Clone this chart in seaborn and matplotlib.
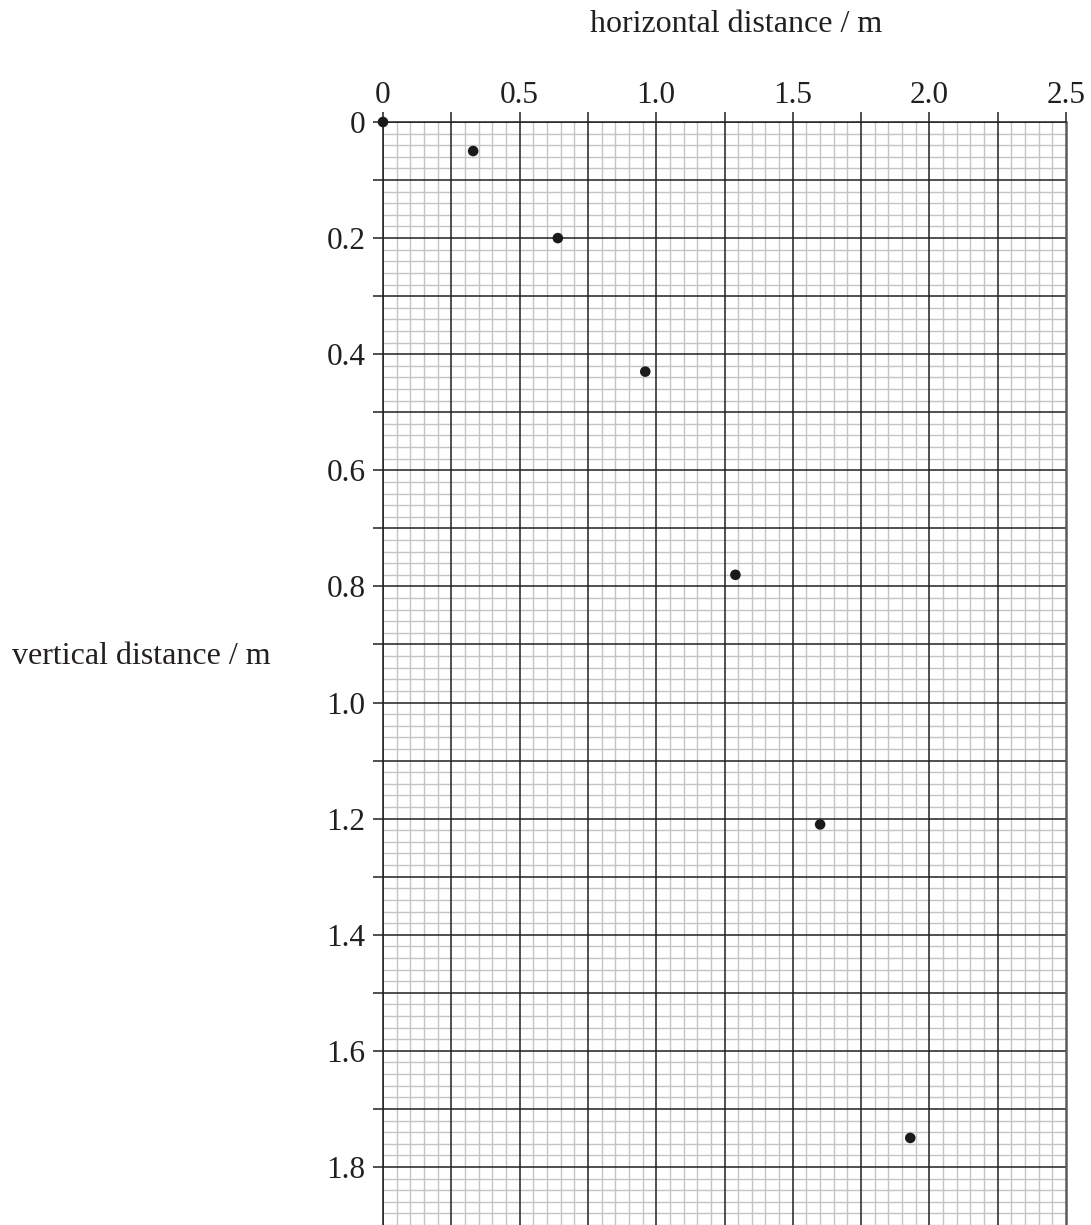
"""Projectile path on graph paper: horizontal vs vertical distance."""

import matplotlib

matplotlib.use("Agg")
import matplotlib.pyplot as plt
import numpy as np
import pandas as pd
import seaborn as sns
from matplotlib.ticker import FixedLocator, MultipleLocator

# measured positions of the ball
horizontal_m = [0.0, 0.33, 0.64, 0.96, 1.29, 1.60, 1.93]
vertical_m = [0.0, 0.05, 0.20, 0.43, 0.78, 1.21, 1.75]

x_major = [0, 0.25, 0.5, 0.75, 1.0, 1.25, 1.5, 1.75, 2.0, 2.25, 2.5]
x_labels = ["0", "", "0.5", "", "1.0", "", "1.5", "", "2.0", "", "2.5"]
y_major = [0, 0.1, 0.2, 0.3, 0.4, 0.5, 0.6, 0.7, 0.8, 0.9,
           1.0, 1.1, 1.2, 1.3, 1.4, 1.5, 1.6, 1.7, 1.8]
y_labels = ["0", "", "0.2", "", "0.4", "", "0.6", "", "0.8", "",
            "1.0", "", "1.2", "", "1.4", "", "1.6", "", "1.8"]

sns.set_theme(style="white")
plt.rcParams["font.family"] = ["Liberation Serif", "DejaVu Serif"]

df = pd.DataFrame({"horizontal": horizontal_m, "vertical": vertical_m})

INK = "#231f20"
W, H = 1091, 1225
fig = plt.figure(figsize=(W / 100, H / 100), dpi=100)
ax = fig.add_axes([383 / W, 0, (1066 - 383) / W, (H - 122) / H])

ax.set_xlim(0, 2.5)
ax.set_ylim(1.9, 0)

ax.xaxis.set_major_locator(FixedLocator(x_major))
ax.set_xticklabels(x_labels)
ax.yaxis.set_major_locator(FixedLocator(y_major))
ax.set_yticklabels(y_labels)
ax.xaxis.set_minor_locator(MultipleLocator(0.05))
ax.yaxis.set_minor_locator(MultipleLocator(0.02))

# fine paper grid underneath, heavy lines on top of it
ax.grid(which="minor", color="#c4c4c4", linewidth=1.0)
ax.set_axisbelow(True)
ax.vlines(x_major[:-1], 0, 1.9, colors=INK, linewidth=1.1, zorder=2)
ax.hlines(y_major, 0, 2.5, colors=INK, linewidth=1.1, zorder=2)

ax.xaxis.tick_top()
ax.tick_params(axis="x", which="major", direction="out", length=7.5, width=1.1,
               color=INK, pad=1, labelsize=22.5, labelcolor=INK,
               top=True, bottom=False)
ax.tick_params(axis="y", which="major", direction="out", length=7.5, width=1.1,
               color=INK, pad=5, labelsize=22.5, labelcolor=INK,
               left=True, right=False)
ax.tick_params(which="minor", length=0)

for side in ["top", "left"]:
    ax.spines[side].set_color(INK)
    ax.spines[side].set_linewidth(1.1)
    ax.spines[side].set_zorder(3)
ax.spines["right"].set_color("#5a5a5a")
ax.spines["right"].set_linewidth(1.8)
ax.spines["right"].set_zorder(3)
ax.spines["bottom"].set_visible(False)

sns.scatterplot(data=df, x="horizontal", y="vertical", ax=ax, color="#1a1a1a",
                s=58, edgecolor="none", zorder=5, clip_on=False, legend=False)
ax.set_xlabel("")
ax.set_ylabel("")

fig.text(590 / W, 1 - 32 / H, "horizontal distance / m", ha="left",
         va="baseline", fontsize=23, color=INK)
fig.text(12 / W, 1 - 664 / H, "vertical distance / m", ha="left",
         va="baseline", fontsize=23, color=INK)

fig.savefig("out.png", dpi=100)
plt.close(fig)
